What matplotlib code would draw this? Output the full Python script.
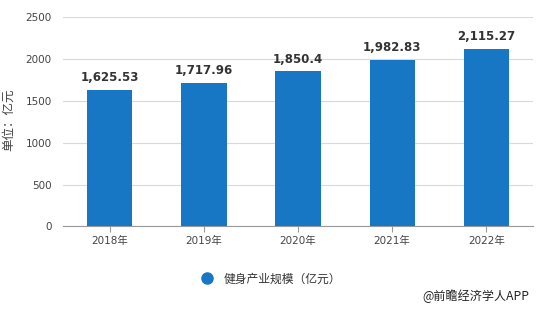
import matplotlib
matplotlib.use("Agg")
import matplotlib.pyplot as plt

plt.rcParams['font.family'] = ['DejaVu Sans', 'Noto Sans CJK SC']

years = ["2018年", "2019年", "2020年", "2021年", "2022年"]
values = [1625.53, 1717.96, 1850.4, 1982.83, 2115.27]
value_labels = ["1,625.53", "1,717.96", "1,850.4", "1,982.83", "2,115.27"]

bar_color = "#1777C4"
cjk = ['Noto Sans CJK SC', 'DejaVu Sans']

fig = plt.figure(figsize=(5.37, 3.09), dpi=100)
ax = fig.add_axes([0.117, 0.267, 0.876, 0.678])

x = range(len(years))
ax.bar(x, values, width=0.48, color=bar_color, zorder=3)

for i, v in enumerate(values):
    ax.text(i, v + 70, value_labels[i], ha="center", va="bottom",
            fontsize=8.5, fontweight="bold", color="#333333")

ax.set_ylim(0, 2500)
ax.set_xlim(-0.5, len(years) - 0.5)
ax.set_yticks([0, 500, 1000, 1500, 2000, 2500])
ax.set_xticks(list(x))
ax.set_xticklabels(years)
ax.tick_params(axis="y", length=0, labelsize=7.5, colors="#444444", pad=8)
ax.tick_params(axis="x", length=4, labelsize=7.5, colors="#444444", color="#999999", pad=3)
ax.yaxis.grid(True, color="#d9d9d9", linewidth=0.8, zorder=0)

for side in ["top", "right", "left"]:
    ax.spines[side].set_visible(False)
ax.spines["bottom"].set_color("#999999")

fig.text(0.016, 0.612, "单位：亿元", rotation=90, ha="center", va="center",
         fontsize=9, color="#444444", family=cjk)

# legend
fig.legend(handles=[plt.Line2D([], [], marker="o", linestyle="", color=bar_color,
                               markersize=8, label="健身产业规模（亿元）")],
           loc="center", bbox_to_anchor=(0.5, 0.097), frameon=False,
           prop={"family": cjk, "size": 8.5}, handletextpad=0.4, labelcolor="#333333")

fig.text(0.985, 0.04, "@前瞻经济学人APP", ha="right", va="center",
         fontsize=8.7, color="#222222", family=cjk)

fig.savefig("out.png", dpi=100)
